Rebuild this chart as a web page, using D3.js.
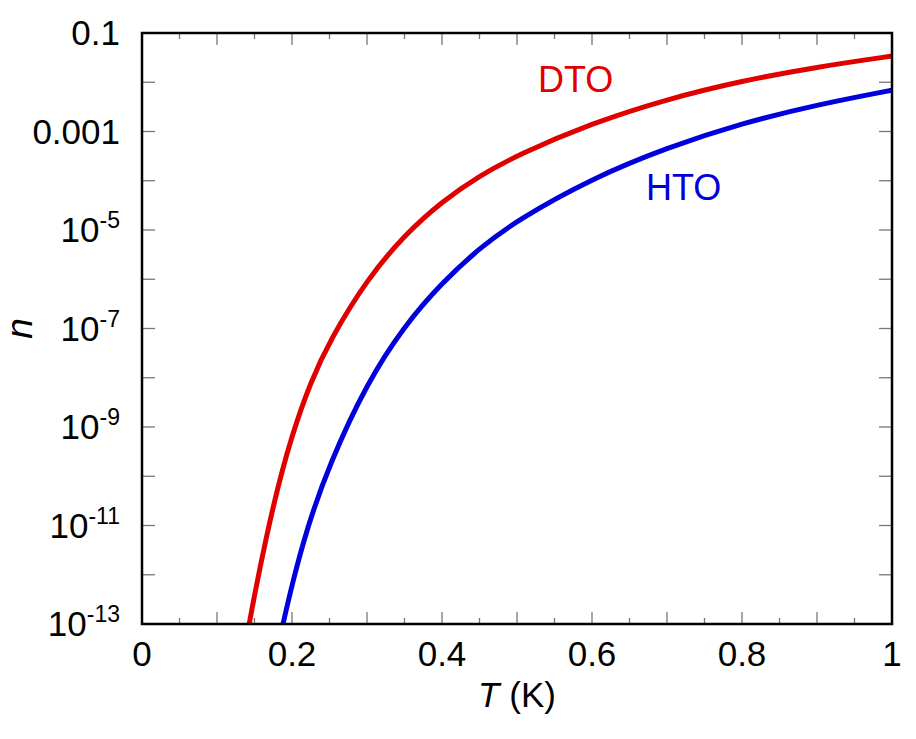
<!DOCTYPE html>
<html>
<head>
<meta charset="utf-8">
<script src="https://cdn.jsdelivr.net/npm/d3@7"></script>
<style>
  body { margin: 0; background: #fff; }
  svg { display: block; font-family: "Liberation Sans", Arial, sans-serif; }
</style>
</head>
<body>
<svg width="916" height="739"></svg>
<script>
// temperatures (K) and densities
const dtoT = [0.143, 0.15, 0.175, 0.2, 0.225, 0.25, 0.3, 0.35, 0.4, 0.45, 0.5, 0.6, 0.7, 0.8, 0.9, 1.0];
const dtoN = [1e-13, 4.0e-13, 2.8e-11, 7.1e-10, 8.3e-9, 5.6e-8, 1.0e-6, 7.9e-6, 3.8e-5, 1.26e-4, 3.3e-4, 1.48e-3, 4.55e-3, 1.07e-2, 2.05e-2, 3.4e-2];

const htoT = [0.188, 0.2, 0.22, 0.25, 0.3, 0.35, 0.4, 0.45, 0.5, 0.6, 0.7, 0.8, 0.9, 1.0];
const htoN = [1e-13, 6.3e-13, 8.9e-12, 1.78e-10, 7.9e-9, 1.15e-7, 8.5e-7, 4.3e-6, 1.58e-5, 1.12e-4, 4.7e-4, 1.48e-3, 3.5e-3, 6.9e-3];

const xTickLabels = [0, 0.2, 0.4, 0.6, 0.8, 1];
const yExponents = [-1, -3, -5, -7, -9, -11, -13];

const series = [
  { name: 'DTO', T: dtoT, n: dtoN, color: '#e00000', lx: 0.528, ly: 92 },
  { name: 'HTO', T: htoT, n: htoN, color: '#0000dd', lx: 0.672, ly: 200 }
];

const svg = d3.select('svg');
const pl = 142, pr = 892, pt = 33, pb = 624;

const x = d3.scaleLinear().domain([0, 1]).range([pl, pr]);
const y = d3.scaleLog().domain([1e-13, 1e-1]).range([pb, pt]);

// clip for the curves
svg.append('clipPath').attr('id', 'plot')
  .append('rect')
  .attr('x', pl).attr('y', pt)
  .attr('width', pr - pl).attr('height', pb - pt);

// ticks, all pointing inwards, on the four sides
const tickColor = '#777';
const xMajor = d3.range(0, 11).map(i => i / 10);
const xMinor = d3.range(0, 10).map(i => i / 10 + 0.05);
const yMajor = d3.range(-13, 0).map(e => Math.pow(10, e));

const ticks = svg.append('g').attr('stroke', tickColor).attr('stroke-width', 1.3);
[[xMajor, 12], [xMinor, 6]].forEach(([vals, len]) => {
  vals.forEach(v => {
    ticks.append('line').attr('x1', x(v)).attr('x2', x(v)).attr('y1', pb).attr('y2', pb - len);
    ticks.append('line').attr('x1', x(v)).attr('x2', x(v)).attr('y1', pt).attr('y2', pt + len);
  });
});
yMajor.forEach(v => {
  ticks.append('line').attr('x1', pl).attr('x2', pl + 13).attr('y1', y(v)).attr('y2', y(v));
  ticks.append('line').attr('x1', pr).attr('x2', pr - 13).attr('y1', y(v)).attr('y2', y(v));
});

// curves
const line = d3.line()
  .x(d => x(d[0]))
  .y(d => y(d[1]))
  .curve(d3.curveBasis);

series.forEach(s => {
  const pts = s.T.map((t, i) => [t, s.n[i]]);
  svg.append('path')
    .attr('clip-path', 'url(#plot)')
    .attr('d', line(pts))
    .attr('fill', 'none')
    .attr('stroke', s.color)
    .attr('stroke-width', 5);
  svg.append('text')
    .attr('x', x(s.lx)).attr('y', s.ly)
    .attr('fill', s.color)
    .attr('font-size', 36)
    .text(s.name);
});

// frame
svg.append('rect')
  .attr('x', pl).attr('y', pt)
  .attr('width', pr - pl).attr('height', pb - pt)
  .attr('fill', 'none').attr('stroke', '#000').attr('stroke-width', 2.5);

// x tick labels
svg.append('g').selectAll('text')
  .data(xTickLabels)
  .enter().append('text')
  .attr('x', d => x(d))
  .attr('y', 666)
  .attr('text-anchor', 'middle')
  .attr('font-size', 35)
  .text(d => d3.format('~g')(d));

// y tick labels
const yl = svg.append('g').selectAll('text')
  .data(yExponents)
  .enter().append('text')
  .attr('x', 120)
  .attr('y', d => y(Math.pow(10, d)))
  .attr('dy', '0.35em')
  .attr('text-anchor', 'end')
  .attr('font-size', 35);

yl.each(function (e) {
  const t = d3.select(this);
  if (e >= -3) {
    t.text(e === -1 ? '0.1' : '0.001');
  } else {
    t.append('tspan').text('10');
    t.append('tspan').attr('font-size', 23).attr('dy', -14).text(e);
  }
});

// axis titles
const xt = svg.append('text')
  .attr('x', (pl + pr) / 2).attr('y', 707)
  .attr('text-anchor', 'middle')
  .attr('font-size', 35);
xt.append('tspan').attr('font-style', 'italic').text('T');
xt.append('tspan').text(' (K)');

svg.append('text')
  .attr('transform', `translate(32, ${(pt + pb) / 2}) rotate(-90)`)
  .attr('text-anchor', 'middle')
  .attr('font-size', 37)
  .attr('font-style', 'italic')
  .text('n');
</script>
</body>
</html>
